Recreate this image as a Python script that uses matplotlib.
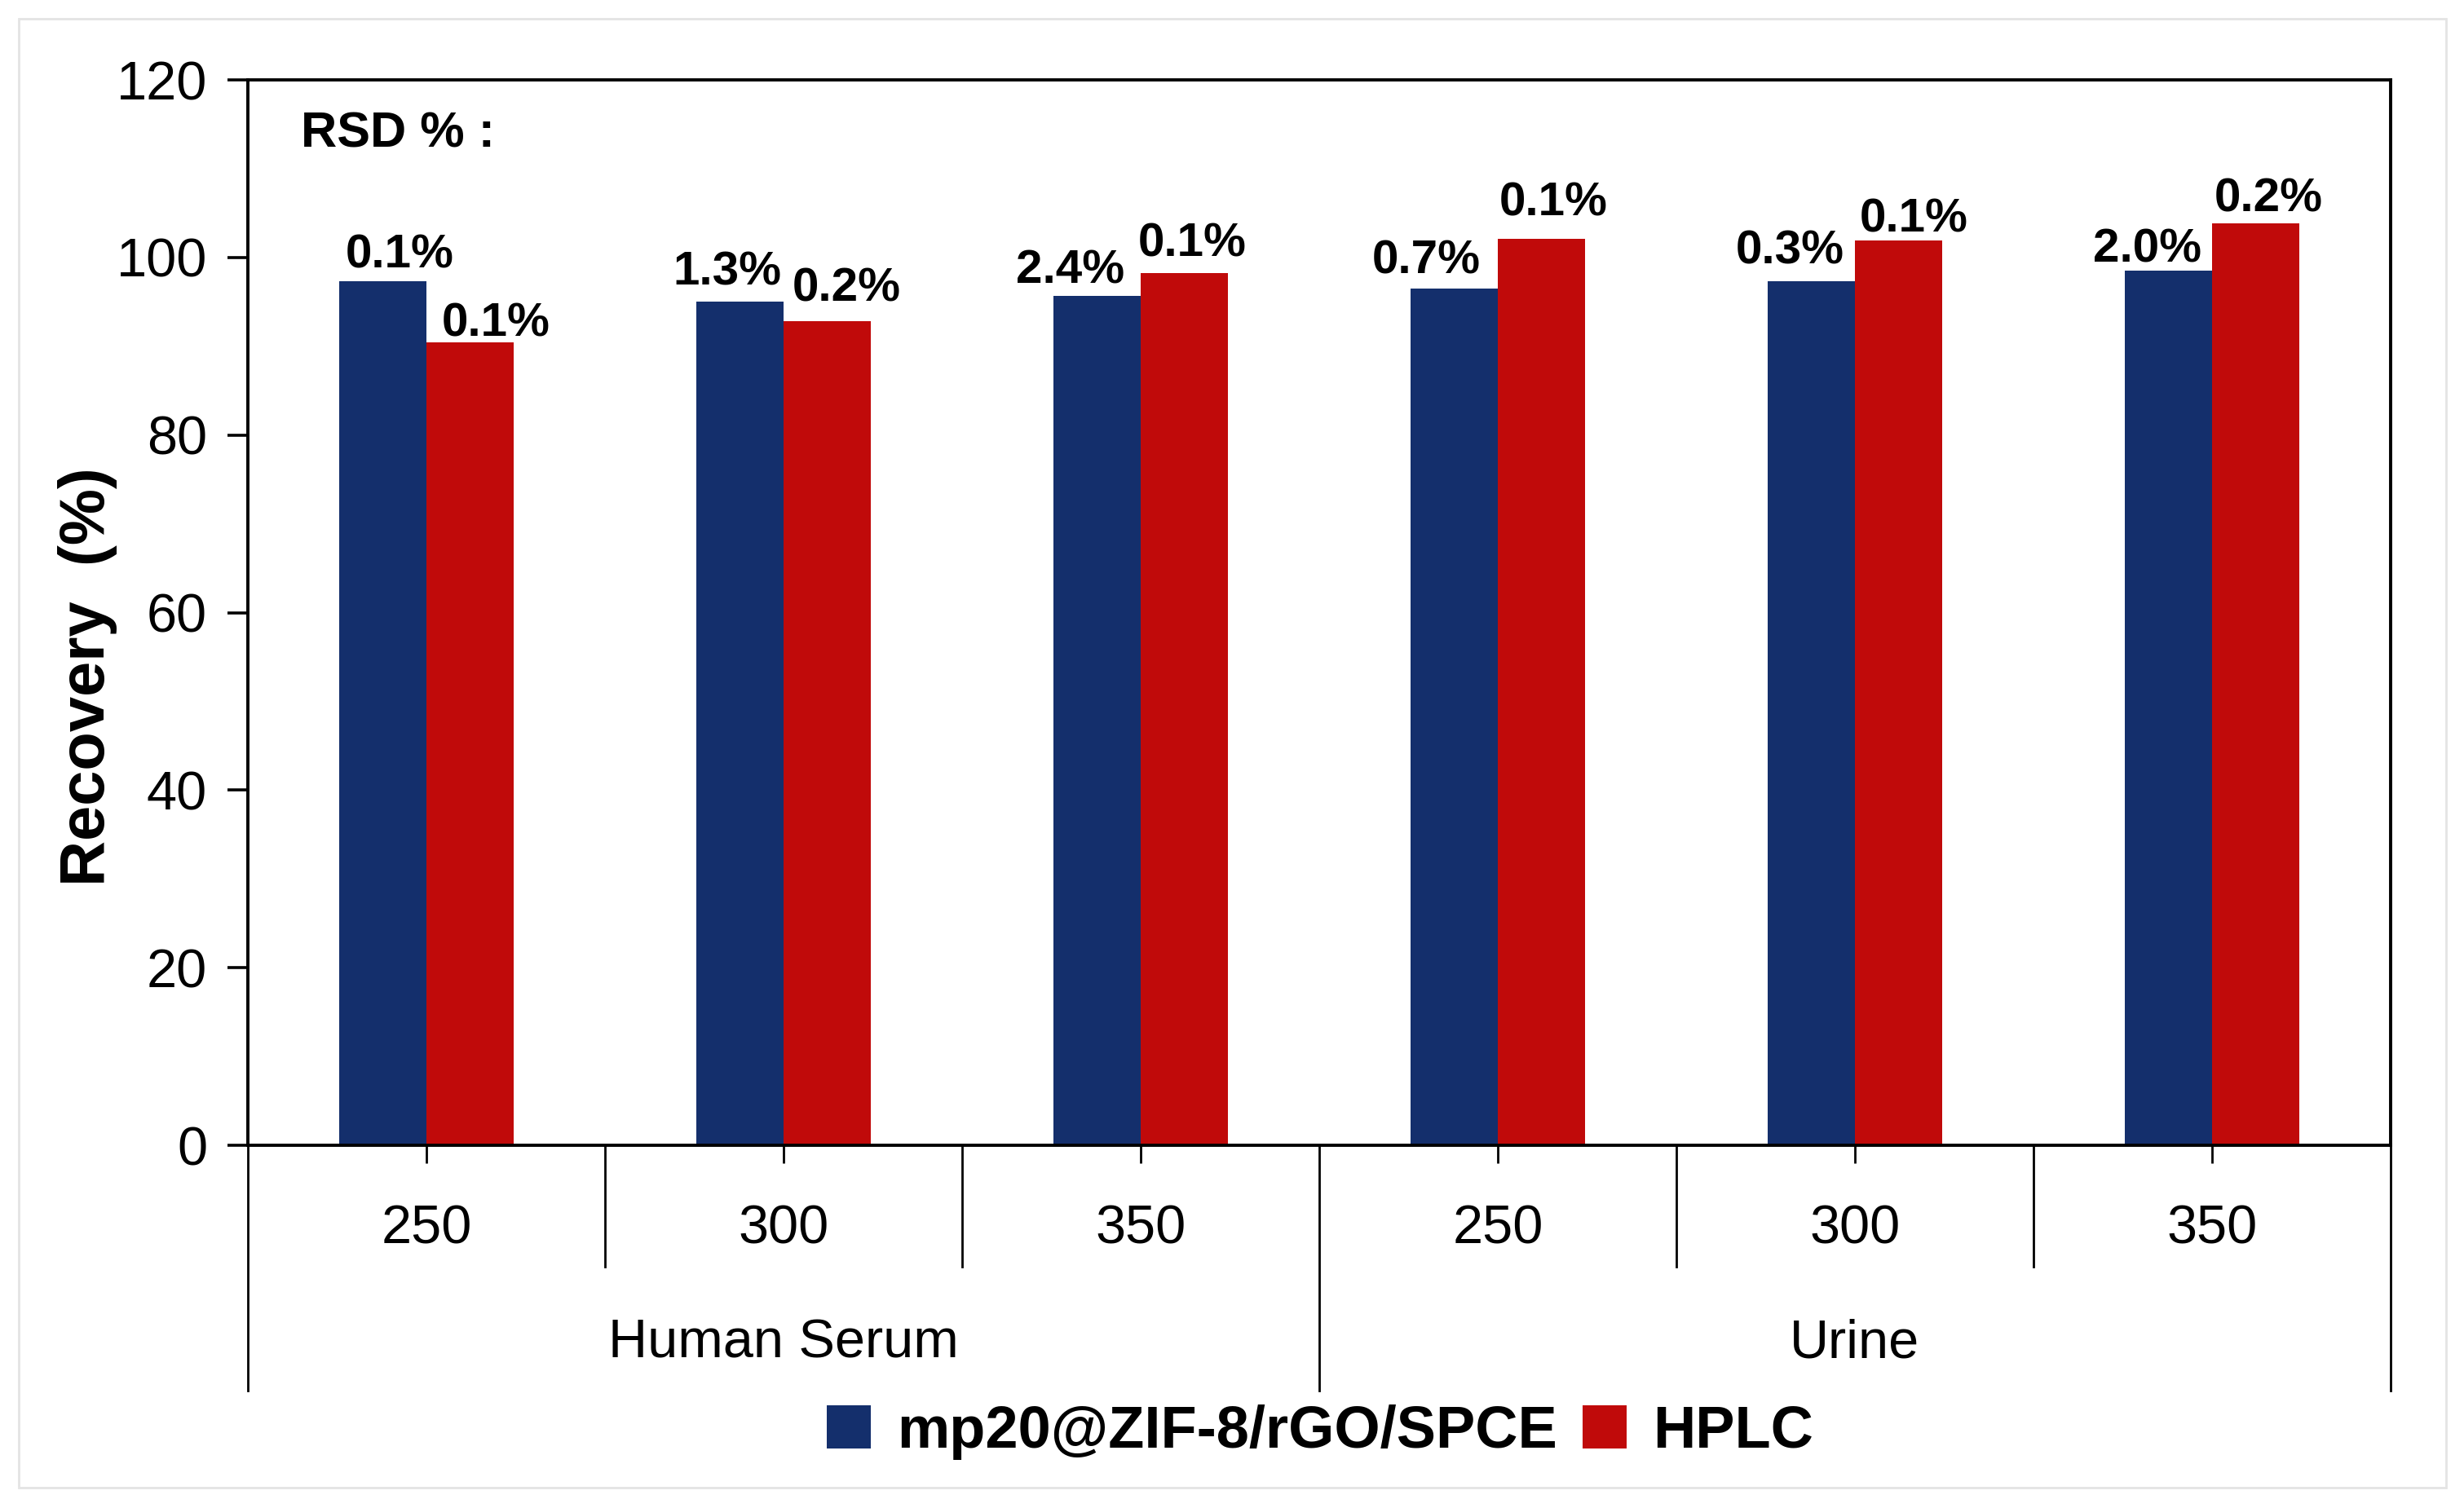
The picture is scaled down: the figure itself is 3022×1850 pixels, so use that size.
import matplotlib
matplotlib.use("Agg")
import matplotlib.pyplot as plt
from matplotlib.patches import Rectangle
import numpy as np

plt.rcParams['font.family'] = ['Liberation Sans', 'DejaVu Sans']

# ---------------- data ----------------
concentrations = ["250", "300", "350", "250", "300", "350"]
groups = ["Human Serum", "Urine"]
group_sizes = [3, 3]
series_names = ["mp20@ZIF-8/rGO/SPCE", "HPLC"]
sensor_recovery = [97.3, 95.0, 95.7, 96.5, 97.3, 98.5]
hplc_recovery = [90.4, 92.8, 98.2, 102.1, 101.9, 103.8]
sensor_rsd = ["0.1%", "1.3%", "2.4%", "0.7%", "0.3%", "2.0%"]
hplc_rsd = ["0.1%", "0.2%", "0.1%", "0.1%", "0.1%", "0.2%"]
y_ticks = [0, 20, 40, 60, 80, 100, 120]

# label offsets (points) relative to bar top-centre, tuned to the reference
sensor_off = [(7.6, 6.1), (-5.6, 7.6), (-11.9, 5.4), (-12.2, 6.5), (-9.4, 7.9), (-9.4, 4.0)]
hplc_off = [(11.2, 2.9), (8.6, 9.0), (3.6, 7.6), (5.4, 10.1), (6.8, 4.0), (5.8, 5.4)]

BLUE = "#142f6c"
RED = "#c00a0a"

fig = plt.figure(figsize=(15.11, 9.25), dpi=200)
fig.patches.append(Rectangle((0.0076, 0.0135), 0.985, 0.974, transform=fig.transFigure,
                             fill=False, edgecolor="#e4e4e4", lw=1.0))

ax = fig.add_axes([0.1006, 0.2405, 0.8696, 0.7065])
x = np.arange(len(concentrations))
w = 0.245
b1 = ax.bar(x - w / 2, sensor_recovery, w, color=BLUE, label=series_names[0], zorder=2)
b2 = ax.bar(x + w / 2, hplc_recovery, w, color=RED, label=series_names[1], zorder=2)

for rect, lab, (dx, dy) in zip(b1, sensor_rsd, sensor_off):
    ax.annotate(lab, (rect.get_x() + rect.get_width() / 2, rect.get_height()),
                xytext=(dx, dy), textcoords="offset points", ha="center", va="baseline",
                fontsize=21, fontweight="bold")
for rect, lab, (dx, dy) in zip(b2, hplc_rsd, hplc_off):
    ax.annotate(lab, (rect.get_x() + rect.get_width() / 2, rect.get_height()),
                xytext=(dx, dy), textcoords="offset points", ha="center", va="baseline",
                fontsize=21, fontweight="bold")

ax.set_xlim(-0.5, len(concentrations) - 0.5)
ax.set_ylim(0, 120)
ax.set_yticks(y_ticks)
ax.tick_params(axis="y", direction="out", length=9, width=1.3, pad=9, labelsize=24)
ax.set_xticks(x)
ax.set_xticklabels(concentrations)
ax.tick_params(axis="x", direction="out", length=8, width=1.0, pad=18, labelsize=24)
for s in ax.spines.values():
    s.set_linewidth(1.4)
    s.set_color("black")

# multi-level category axis lines
trans = ax.get_xaxis_transform()
inner_bottom = -0.114
outer_bottom = -0.2303
bounds = np.cumsum([0] + group_sizes) - 0.5
for i in range(len(concentrations) + 1):
    xb = i - 0.5
    yb = outer_bottom if np.any(np.isclose(bounds, xb)) else inner_bottom
    ax.plot([xb, xb], [0, yb], transform=trans, color="black", lw=1.0, clip_on=False)

start = 0
for g, n in zip(groups, group_sizes):
    cx = start + (n - 1) / 2
    ax.text(cx, -0.1989, g, transform=trans, ha="center", va="baseline", fontsize=24)
    start += n

ax.text(0.0247, 0.9373, "RSD % :", transform=ax.transAxes, ha="left", va="baseline",
        fontsize=22, fontweight="bold")

fig.text(0.0357, 0.5514, "Recovery  (%)", rotation=90, ha="center", va="center",
         fontsize=28, fontweight="bold")

fig.legend(handles=[b1, b2], labels=series_names, loc="center", bbox_to_anchor=(0.5357, 0.0505),
           ncol=2, frameon=False, prop={"weight": "bold", "size": 26},
           handlelength=0.75, handleheight=0.75, handletextpad=0.44, columnspacing=0.44,
           borderpad=0, borderaxespad=0)

fig.savefig("out.png", dpi=200)
